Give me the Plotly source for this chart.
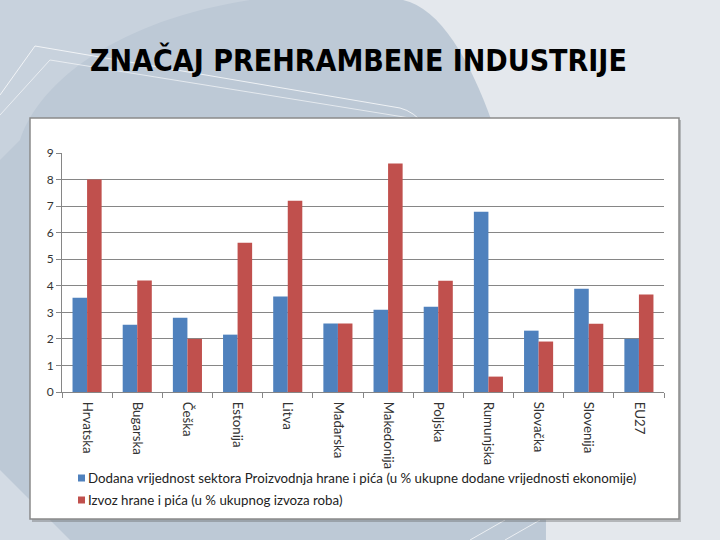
import plotly.graph_objects as go

W, H = 720, 540

categories = ["Hrvatska", "Bugarska", "Češka", "Estonija", "Litva", "Mađarska",
              "Makedonija", "Poljska", "Rumunjska", "Slovačka", "Slovenija", "EU27"]
dodana = [3.55, 2.53, 2.8, 2.16, 3.6, 2.58, 3.1, 3.21, 6.79, 2.31, 3.89, 2.0]
izvoz = [8.0, 4.2, 2.0, 5.62, 7.2, 2.58, 8.6, 4.19, 0.58, 1.9, 2.57, 3.67]
series_names = [
    "Dodana vrijednost sektora Proizvodnja hrane i pića (u % ukupne dodane vrijednosti ekonomije)",
    "Izvoz hrane i pića (u % ukupnog izvoza roba)",
]
series_colors = ["#4f81bd", "#c0504d"]
title_text = "ZNAČAJ PREHRAMBENE INDUSTRIJE"
y_ticks = list(range(0, 10))


def px(x):
    return x / W


def py(y):
    return 1 - y / H


def path(points, close=True):
    s = "M " + " L ".join(f"{px(x):.4f},{py(y):.4f}" for x, y in points)
    return s + (" Z" if close else "")


def cpath(cmds):
    out = []
    for c, pts in cmds:
        out.append(c + " " + " ".join(f"{px(x):.4f},{py(y):.4f}" for x, y in pts))
    return " ".join(out)


fig = go.Figure()
fig.add_trace(go.Bar(x=categories, y=dodana, name=series_names[0],
                     marker=dict(color=series_colors[0], line=dict(width=0))))
fig.add_trace(go.Bar(x=categories, y=izvoz, name=series_names[1],
                     marker=dict(color=series_colors[1], line=dict(width=0))))

shapes = []
# blue-grey swoosh background
shapes.append(dict(type="path", xref="paper", yref="paper", layer="below",
                   path=cpath([("M", [(0, 0)]), ("L", [(403, 0)]),
                               ("C", [(440, 8), (470, 60), (492, 122)]),
                               ("L", [(546, 520)]), ("L", [(546, 540)]),
                               ("L", [(0, 540)]), ("Z", [])]),
                   fillcolor="#bdc9d6", line=dict(width=0)))
# lighter arc area top-left
shapes.append(dict(type="path", xref="paper", yref="paper", layer="below",
                   path=cpath([("M", [(0, 0)]), ("L", [(250, 0)]),
                               ("C", [(120, 20), (40, 80), (20, 140)]),
                               ("L", [(0, 160)]), ("Z", [])]),
                   fillcolor="#c8d2dd", line=dict(width=0)))
# light bottom-left triangle
shapes.append(dict(type="path", xref="paper", yref="paper", layer="below",
                   path=path([(0, 470), (70, 540), (0, 540)]),
                   fillcolor="#d3dbe4", line=dict(width=0)))
# decorative white lines
shapes.append(dict(type="path", xref="paper", yref="paper", layer="below",
                   path=cpath([("M", [(0, 95)]), ("L", [(35, 46)]),
                               ("L", [(400, 108)]),
                               ("Q", [(428, 115), (445, 165)])]),
                   line=dict(color="rgba(255,255,255,0.75)", width=1)))
shapes.append(dict(type="path", xref="paper", yref="paper", layer="below",
                   path=cpath([("M", [(0, 115)]), ("L", [(50, 60)]),
                               ("L", [(410, 118)]),
                               ("Q", [(432, 125), (450, 175)])]),
                   line=dict(color="rgba(255,255,255,0.6)", width=1)))
shapes.append(dict(type="path", xref="paper", yref="paper", layer="below",
                   path=path([(470, 540), (505, 520)], close=False),
                   line=dict(color="rgba(255,255,255,0.7)", width=1)))
shapes.append(dict(type="path", xref="paper", yref="paper", layer="below",
                   path=path([(505, 540), (540, 520)], close=False),
                   line=dict(color="rgba(255,255,255,0.7)", width=1)))
# chart box shadow + box
shapes.append(dict(type="rect", xref="paper", yref="paper", layer="below",
                   x0=px(32), x1=px(681), y0=py(522), y1=py(120),
                   fillcolor="rgba(90,90,90,0.35)", line=dict(width=0)))
shapes.append(dict(type="rect", xref="paper", yref="paper", layer="below",
                   x0=px(30), x1=px(679), y0=py(519), y1=py(118),
                   fillcolor="#ffffff", line=dict(color="#8a8a8a", width=1.5)))

# manual legend (square markers + text)
legend_rows_y = [478, 500]
annotations = [dict(text=title_text, x=px(358), y=py(60), xref="paper", yref="paper",
                    showarrow=False, xanchor="center", yanchor="middle",
                    font=dict(family="DejaVu Sans Condensed, Liberation Sans, Arial",
                              size=30, color="#000000", weight="bold"))]
for name, col, ry in zip(series_names, series_colors, legend_rows_y):
    shapes.append(dict(type="rect", xref="paper", yref="paper",
                       x0=px(78), x1=px(85), y0=py(ry + 3.5), y1=py(ry - 3.5),
                       fillcolor=col, line=dict(width=0)))
    annotations.append(dict(text=name, x=px(86), y=py(ry), xref="paper", yref="paper",
                            showarrow=False, xanchor="left", yanchor="middle",
                            font=dict(family="Lato", size=13.3, color="#222222")))

fig.update_layout(
    width=W, height=H,
    margin=dict(l=0, r=0, t=0, b=0),
    paper_bgcolor="#e4e8ed",
    plot_bgcolor="rgba(0,0,0,0)",
    barmode="group",
    bargap=0.42,
    bargroupgap=0,
    shapes=shapes,
    showlegend=False,
    annotations=annotations,
    xaxis=dict(domain=[px(62), px(664)], showline=True, linecolor="#868686", linewidth=1,
               ticks="outside", tickson="boundaries", ticklen=5, tickcolor="#868686",
               tickangle=90, tickfont=dict(family="Lato", size=13.3, color="#333333"),
               ticklabelstandoff=6,
               showgrid=False, automargin=False),
    yaxis=dict(domain=[py(392), py(153)], range=[0, 9], tickvals=y_ticks,
               showline=True, linecolor="#868686", linewidth=1,
               ticks="outside", ticklen=5, tickcolor="#868686",
               showgrid=True, gridcolor="#868686", gridwidth=1, zeroline=False,
               automargin=False,
               tickfont=dict(family="Lato", size=12, color="#333333")),
)

fig.write_html("out.html", config={"displayModeBar": False},
               post_script="document.body.style.margin='0';document.body.style.padding='0';"
                           "document.body.style.overflow='hidden';")
